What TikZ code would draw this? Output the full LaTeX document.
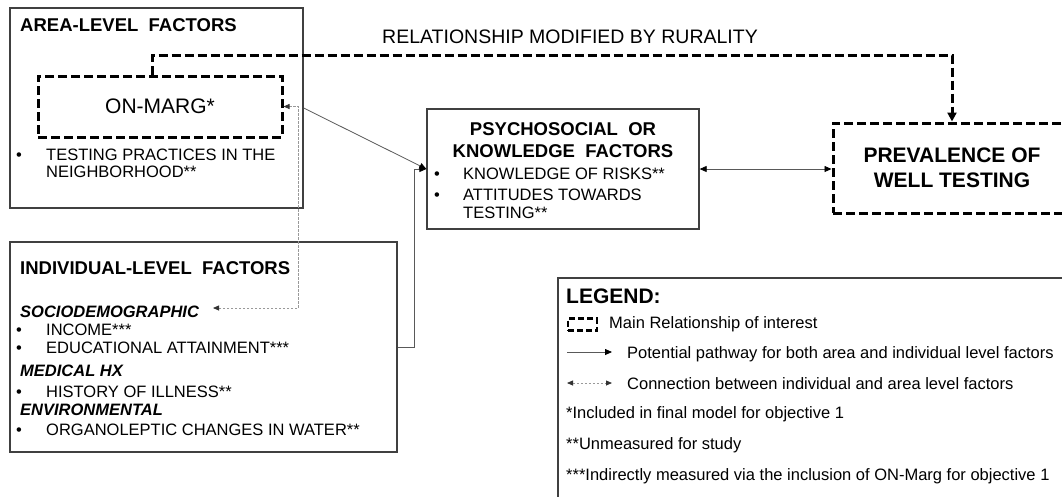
\documentclass[tikz,border=0pt]{standalone}
\usepackage{fontspec}
\setmainfont{Liberation Sans}
\usetikzlibrary{arrows.meta}
\begin{document}
\begin{tikzpicture}[x=1pt,y=-1pt,
  box/.style={draw=black!75, line width=1.3pt, inner sep=0pt},
  mainbox/.style={draw=black, line width=3pt, dash pattern=on 9pt off 4pt, inner sep=0pt},
  maindash/.style={draw=black, line width=3pt, dash pattern=on 9pt off 4pt},
  body/.style={font=\fontsize{16.5}{18}\selectfont, anchor=base west, inner sep=0pt},
  ttl/.style={font=\fontsize{18.5}{20}\selectfont\bfseries, anchor=base west, inner sep=0pt},
  subttl/.style={font=\fontsize{16.5}{18}\selectfont\bfseries\itshape, anchor=base west, inner sep=0pt},
  conn/.style={draw=black!65, line width=0.8pt, -{Triangle[length=7pt,width=6pt,black]}},
  gconn/.style={draw=black!40, line width=0.8pt, dash pattern=on 2.5pt off 1.5pt, {Triangle[length=6pt,width=5pt,black!80]}-{Triangle[length=6pt,width=5pt,black!80]}},
]
\useasboundingbox (0,0) rectangle (1062,496);
\fill[white] (0,0) rectangle (1062,496);

% area-level box
\node[box, minimum width=293pt, minimum height=200pt] (area) at (156.5,108) {};
\node[ttl] (areat) at (20,31.7) {AREA-LEVEL\ \ FACTORS};
\node[mainbox, minimum width=244pt, minimum height=61pt, font=\fontsize{21}{24}\selectfont] (onmarg) at (160,106.5) {ON-MARG*};
\node[body] (ab1) at (16,160) {•};
\node[body] (at1) at (46,160) {TESTING PRACTICES IN THE};
\node[body] (at2) at (46,177.5) {NEIGHBORHOOD**};

% rurality
\node[font=\fontsize{19.5}{22}\selectfont, anchor=base, inner sep=0pt] (rur) at (570,43.3) {RELATIONSHIP MODIFIED BY RURALITY};

% psychosocial box
\node[box, minimum width=272pt, minimum height=120pt] (psy) at (563,169) {};
\node[ttl, anchor=base] (psyt1) at (563,135) {PSYCHOSOCIAL\ \ OR};
\node[ttl, anchor=base] (psyt2) at (563,157) {KNOWLEDGE\ \ FACTORS};
\node[body] (pb1) at (434,179) {•};
\node[body] (pt1) at (463,179) {KNOWLEDGE OF RISKS**};
\node[body] (pb2) at (434,200) {•};
\node[body] (pt2) at (463,200) {ATTITUDES TOWARDS};
\node[body] (pt3) at (463,218) {TESTING**};

% prevalence box
\node[mainbox, minimum width=238pt, minimum height=90pt, align=center,
      font=\fontsize{21}{25}\selectfont\bfseries] (prev) at (952,168) {PREVALENCE OF\\WELL TESTING};

% individual box
\node[box, minimum width=387pt, minimum height=210pt] (ind) at (203.5,347) {};
\node[ttl] (indt) at (20,274) {INDIVIDUAL-LEVEL\ \ FACTORS};
\node[subttl] (soc) at (20,317) {SOCIODEMOGRAPHIC};
\node[body] (ib1) at (16,335) {•};
\node[body] (it1) at (46,335) {INCOME***};
\node[body] (ib2) at (16,353) {•};
\node[body] (it2) at (46,353) {EDUCATIONAL ATTAINMENT***};
\node[subttl] (med) at (20,376) {MEDICAL HX};
\node[body] (ib3) at (16,397) {•};
\node[body] (it3) at (46,397) {HISTORY OF ILLNESS**};
\node[subttl] (env) at (20,415) {ENVIRONMENTAL};
\node[body] (ib4) at (16,435) {•};
\node[body] (it4) at (46,435) {ORGANOLEPTIC CHANGES IN WATER**};

% connectors
\coordinate (rtop) at (952,55);
\draw[maindash, -{Triangle[length=9pt,width=9pt]}] ([xshift=-8pt]onmarg.north) |- (rtop) -- (prev.north);
\draw[conn] (area.east) -- (psy.west);
\draw[conn] (ind.east) -- ++(17,0) |- (psy.west);
\draw[conn, {Triangle[length=7pt,width=6pt,black]}-{Triangle[length=7pt,width=6pt,black]}] (psy.east) -- (psy.east -| prev.west);
\coordinate (socend) at (213,308);
\draw[gconn] (onmarg.east) -- ++(15,0) |- (socend);

% legend
\node[box, minimum width=517pt, minimum height=232pt] (leg) at (816.5,394) {};
\node[font=\fontsize{21}{24}\selectfont\bfseries, anchor=base west, inner sep=0pt] (legt) at (566,303) {LEGEND:};
\node[draw=black, line width=2.5pt, dash pattern=on 6pt off 3pt, minimum width=29pt, minimum height=12pt, inner sep=0pt] (icon) at (582.5,324.5) {};
\node[body] (l1) at (609,328) {Main Relationship of interest};
\coordinate (a1s) at (567,352);
\coordinate (a1e) at (612,352);
\draw[conn] (a1s) -- (a1e);
\node[body] (l2) at (627,358) {Potential pathway for both area and individual level factors};
\coordinate (a2s) at (567,383);
\coordinate (a2e) at (612,383);
\draw[gconn] (a2s) -- (a2e);
\node[body] (l3) at (627,389) {Connection between individual and area level factors};
\node[body] (l4) at (566,418) {*Included in final model for objective 1};
\node[body] (l5) at (566,449) {**Unmeasured for study};
\node[body] (l6) at (566,480) {***Indirectly measured via the inclusion of ON-Marg for objective 1};
\end{tikzpicture}
\end{document}
